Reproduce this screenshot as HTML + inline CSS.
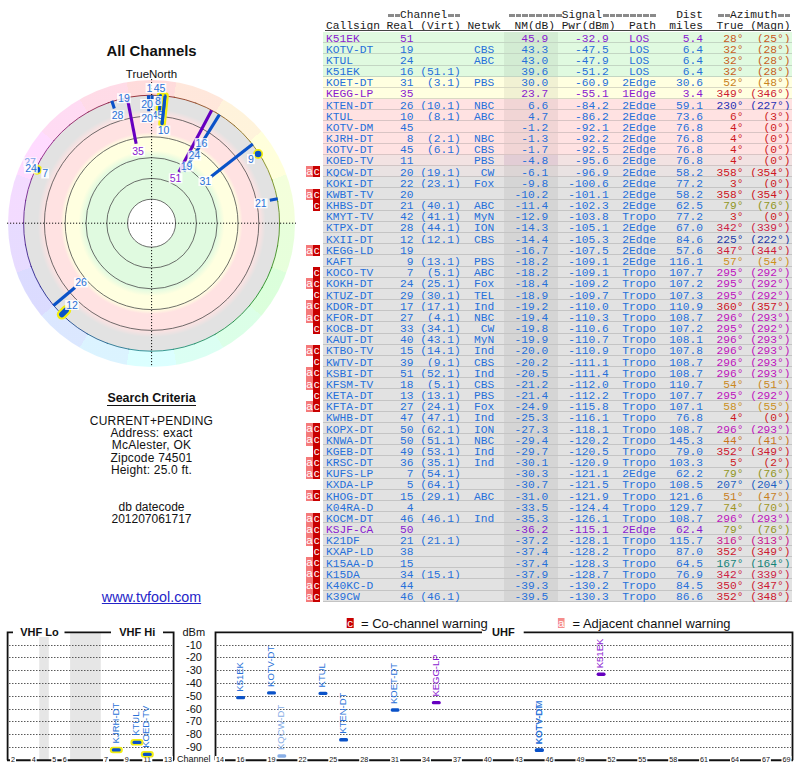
<!DOCTYPE html>
<html><head><meta charset="utf-8">
<style>
html,body{margin:0;padding:0;background:#fff;}
body{width:800px;height:768px;position:relative;overflow:hidden;}
.m{font-family:"Liberation Mono",monospace;font-size:11.23px;white-space:pre;position:absolute;line-height:12px;}
.s{font-family:"Liberation Sans",sans-serif;position:absolute;white-space:pre;}
.row{position:absolute;left:323px;width:469px;}
.ln{position:absolute;left:323px;width:469px;height:1px;}
.bd{position:absolute;width:7px;color:#fff;font-family:"Liberation Sans",sans-serif;font-size:11.5px;text-align:center;overflow:hidden;}
.ba{background:#f57a7a;left:306px;}
.eq{color:transparent;background-image:repeating-linear-gradient(to right,#fff 0,#fff 1px,transparent 1px,transparent 6.738px),linear-gradient(to bottom,transparent 4.6px,#8a8a8a 4.6px,#8a8a8a 8.4px,transparent 8.4px);}
.bc{background:#c80000;left:313px;}
</style></head><body>

<div class="m" style="left:326.00px;top:8.90px;color:#1a1a1a">         <span class="eq">==</span>Channel<span class="eq">==</span>       <span class="eq">========</span>Signal<span class="eq">========</span>   Dist  <span class="eq">==</span>Azimuth<span class="eq">==</span></div>
<div class="m" style="left:326.00px;top:19.60px;color:#1a1a1a">Callsign Real (Virt) Netwk  NM(dB) Pwr(dBm)  Path  miles  True (Magn)</div>
<div style="position:absolute;left:325px;top:30px;width:466px;height:1px;background:#444"></div>
<div class="row" style="top:32.00px;height:11.17px;background:rgb(224,250,224)"></div>
<div style="position:absolute;left:504px;width:54px;top:32.00px;height:11.17px;background:rgba(0,0,0,0.055)"></div>
<div class="ln" style="top:42.17px;background:rgb(195,214,195)"></div>
<div class="m" style="left:326.00px;top:32.60px;color:#8a1ad0">K51EK      51                45.9    -32.9   LOS     5.4 <span style="color:#c85a1e">  28°  (25°)</span></div>
<div class="row" style="top:43.17px;height:11.17px;background:rgb(224,250,224)"></div>
<div style="position:absolute;left:504px;width:54px;top:43.17px;height:11.17px;background:rgba(0,0,0,0.055)"></div>
<div class="ln" style="top:53.34px;background:rgb(195,214,195)"></div>
<div class="m" style="left:326.00px;top:43.77px;color:#2670da">KOTV-DT    19         CBS    43.3    -47.5   LOS     6.4 <span style="color:#c8611e">  32°  (28°)</span></div>
<div class="row" style="top:54.34px;height:11.17px;background:rgb(224,250,224)"></div>
<div style="position:absolute;left:504px;width:54px;top:54.34px;height:11.17px;background:rgba(0,0,0,0.055)"></div>
<div class="ln" style="top:64.51px;background:rgb(195,214,195)"></div>
<div class="m" style="left:326.00px;top:54.94px;color:#2670da">KTUL       24         ABC    43.0    -47.9   LOS     6.4 <span style="color:#c8611e">  32°  (28°)</span></div>
<div class="row" style="top:65.51px;height:11.17px;background:rgb(224,250,224)"></div>
<div style="position:absolute;left:504px;width:54px;top:65.51px;height:11.17px;background:rgba(0,0,0,0.055)"></div>
<div class="ln" style="top:75.68px;background:rgb(195,214,195)"></div>
<div class="m" style="left:326.00px;top:66.11px;color:#2670da">K51EK      16 (51.1)         39.6    -51.2   LOS     6.4 <span style="color:#c8611e">  32°  (28°)</span></div>
<div class="row" style="top:76.68px;height:11.17px;background:rgb(255,255,224)"></div>
<div style="position:absolute;left:504px;width:54px;top:76.68px;height:11.17px;background:rgba(0,0,0,0.055)"></div>
<div class="ln" style="top:86.85px;background:rgb(217,217,195)"></div>
<div class="m" style="left:326.00px;top:77.28px;color:#2670da">KOET-DT    31  (3.1)  PBS    30.0    -60.9  2Edge   30.6 <span style="color:#c8821e">  52°  (48°)</span></div>
<div class="row" style="top:87.85px;height:11.17px;background:rgb(255,255,224)"></div>
<div style="position:absolute;left:504px;width:54px;top:87.85px;height:11.17px;background:rgba(0,0,0,0.055)"></div>
<div class="ln" style="top:98.02px;background:rgb(217,217,195)"></div>
<div class="m" style="left:326.00px;top:88.45px;color:#8a1ad0">KEGG-LP    35                23.7    -55.1  1Edge    3.4 <span style="color:#cd1a34"> 349° (346°)</span></div>
<div class="row" style="top:99.02px;height:11.17px;background:rgb(255,226,226)"></div>
<div style="position:absolute;left:504px;width:54px;top:99.02px;height:11.17px;background:rgba(0,0,0,0.055)"></div>
<div class="ln" style="top:109.19px;background:rgb(217,196,196)"></div>
<div class="m" style="left:326.00px;top:99.62px;color:#2670da">KTEN-DT    26 (10.1)  NBC     6.6    -84.2  2Edge   59.1 <span style="color:#2832b4"> 230° (227°)</span></div>
<div class="row" style="top:110.19px;height:11.17px;background:rgb(255,226,226)"></div>
<div style="position:absolute;left:504px;width:54px;top:110.19px;height:11.17px;background:rgba(0,0,0,0.055)"></div>
<div class="ln" style="top:120.36px;background:rgb(217,196,196)"></div>
<div class="m" style="left:326.00px;top:110.79px;color:#2670da">KTUL       10  (8.1)  ABC     4.7    -86.2  2Edge   73.6 <span style="color:#cd1d1e">   6°   (3°)</span></div>
<div class="row" style="top:121.36px;height:11.17px;background:rgb(255,226,226)"></div>
<div style="position:absolute;left:504px;width:54px;top:121.36px;height:11.17px;background:rgba(0,0,0,0.055)"></div>
<div class="ln" style="top:131.53px;background:rgb(217,196,196)"></div>
<div class="m" style="left:326.00px;top:121.96px;color:#2670da">KOTV-DM    45                -1.2    -92.1  2Edge   76.8 <span style="color:#cd1a1e">   4°   (0°)</span></div>
<div class="row" style="top:132.53px;height:11.17px;background:rgb(255,226,226)"></div>
<div style="position:absolute;left:504px;width:54px;top:132.53px;height:11.17px;background:rgba(0,0,0,0.055)"></div>
<div class="ln" style="top:142.70px;background:rgb(217,196,196)"></div>
<div class="m" style="left:326.00px;top:133.13px;color:#2670da">KJRH-DT     8  (2.1)  NBC    -1.3    -92.2  2Edge   76.8 <span style="color:#cd1a1e">   4°   (0°)</span></div>
<div class="row" style="top:143.70px;height:11.17px;background:rgb(255,226,226)"></div>
<div style="position:absolute;left:504px;width:54px;top:143.70px;height:11.17px;background:rgba(0,0,0,0.055)"></div>
<div class="ln" style="top:153.87px;background:rgb(217,196,196)"></div>
<div class="m" style="left:326.00px;top:144.30px;color:#2670da">KOTV-DT    45  (6.1)  CBS    -1.7    -92.5  2Edge   76.8 <span style="color:#cd1a1e">   4°   (0°)</span></div>
<div class="row" style="top:154.87px;height:11.17px;background:rgb(242,226,226)"></div>
<div style="position:absolute;left:504px;width:54px;top:154.87px;height:11.17px;background:rgba(70,0,90,0.09)"></div>
<div class="ln" style="top:165.04px;background:rgb(208,196,196)"></div>
<div class="m" style="left:326.00px;top:155.47px;color:#2670da">KOED-TV    11         PBS    -4.8    -95.6  2Edge   76.8 <span style="color:#cd1a1e">   4°   (0°)</span></div>
<div class="row" style="top:166.04px;height:11.17px;background:rgb(233,226,226)"></div>
<div style="position:absolute;left:504px;width:54px;top:166.04px;height:11.17px;background:rgba(0,0,0,0.055)"></div>
<div class="ln" style="top:176.21px;background:rgb(201,196,196)"></div>
<div class="m" style="left:326.00px;top:166.64px;color:#2670da">KQCW-DT    20 (19.1)   CW    -6.1    -96.9  2Edge   58.2 <span style="color:#cd1522"> 358° (354°)</span></div>
<div class="bd ba" style="top:166.34px;height:11.17px;line-height:11.77px">a</div>
<div class="bd bc" style="top:166.34px;height:11.17px;line-height:11.77px">c</div>
<div class="row" style="top:177.21px;height:11.17px;background:rgb(226,226,226)"></div>
<div style="position:absolute;left:504px;width:54px;top:177.21px;height:11.17px;background:rgba(0,0,0,0.055)"></div>
<div class="ln" style="top:187.38px;background:rgb(196,196,196)"></div>
<div class="m" style="left:326.00px;top:177.81px;color:#2670da">KOKI-DT    22 (23.1)  Fox    -9.8   -100.6  2Edge   77.2 <span style="color:#cd181e">   3°   (0°)</span></div>
<div class="row" style="top:188.38px;height:11.17px;background:rgb(226,226,226)"></div>
<div style="position:absolute;left:504px;width:54px;top:188.38px;height:11.17px;background:rgba(0,0,0,0.055)"></div>
<div class="ln" style="top:198.55px;background:rgb(196,196,196)"></div>
<div class="m" style="left:326.00px;top:188.98px;color:#2670da">KWBT-TV    20               -10.2   -101.1  2Edge   58.2 <span style="color:#cd1522"> 358° (354°)</span></div>
<div class="bd ba" style="top:188.68px;height:11.17px;line-height:11.77px">a</div>
<div class="bd bc" style="top:188.68px;height:11.17px;line-height:11.77px">c</div>
<div class="row" style="top:199.55px;height:11.17px;background:rgb(226,226,226)"></div>
<div style="position:absolute;left:504px;width:54px;top:199.55px;height:11.17px;background:rgba(0,0,0,0.055)"></div>
<div class="ln" style="top:209.72px;background:rgb(196,196,196)"></div>
<div class="m" style="left:326.00px;top:200.15px;color:#2670da">KHBS-DT    21 (40.1)  ABC   -11.4   -102.3  2Edge   62.5 <span style="color:#91961e">  79°  (76°)</span></div>
<div class="bd bc" style="top:199.85px;height:11.17px;line-height:11.77px">c</div>
<div class="row" style="top:210.72px;height:11.17px;background:rgb(226,226,226)"></div>
<div style="position:absolute;left:504px;width:54px;top:210.72px;height:11.17px;background:rgba(0,0,0,0.055)"></div>
<div class="ln" style="top:220.89px;background:rgb(196,196,196)"></div>
<div class="m" style="left:326.00px;top:211.32px;color:#2670da">KMYT-TV    42 (41.1)  MyN   -12.9   -103.8  Tropo   77.2 <span style="color:#cd181e">   3°   (0°)</span></div>
<div class="row" style="top:221.89px;height:11.17px;background:rgb(226,226,226)"></div>
<div style="position:absolute;left:504px;width:54px;top:221.89px;height:11.17px;background:rgba(0,0,0,0.055)"></div>
<div class="ln" style="top:232.06px;background:rgb(196,196,196)"></div>
<div class="m" style="left:326.00px;top:222.49px;color:#2670da">KTPX-DT    28 (44.1)  ION   -14.3   -105.1  2Edge   67.0 <span style="color:#cd1e46"> 342° (339°)</span></div>
<div class="row" style="top:233.06px;height:11.17px;background:rgb(226,226,226)"></div>
<div style="position:absolute;left:504px;width:54px;top:233.06px;height:11.17px;background:rgba(0,0,0,0.055)"></div>
<div class="ln" style="top:243.23px;background:rgb(196,196,196)"></div>
<div class="m" style="left:326.00px;top:233.66px;color:#2670da">KXII-DT    12 (12.1)  CBS   -14.4   -105.3  2Edge   84.6 <span style="color:#1e3caa"> 225° (222°)</span></div>
<div class="row" style="top:244.23px;height:11.17px;background:rgb(226,226,226)"></div>
<div style="position:absolute;left:504px;width:54px;top:244.23px;height:11.17px;background:rgba(0,0,0,0.055)"></div>
<div class="ln" style="top:254.40px;background:rgb(196,196,196)"></div>
<div class="m" style="left:326.00px;top:244.83px;color:#2670da">KEGG-LD    19               -16.7   -107.5  2Edge   57.6 <span style="color:#cd1b3a"> 347° (344°)</span></div>
<div class="bd ba" style="top:244.53px;height:11.17px;line-height:11.77px">a</div>
<div class="bd bc" style="top:244.53px;height:11.17px;line-height:11.77px">c</div>
<div class="row" style="top:255.40px;height:11.17px;background:rgb(226,226,226)"></div>
<div style="position:absolute;left:504px;width:54px;top:255.40px;height:11.17px;background:rgba(0,0,0,0.055)"></div>
<div class="ln" style="top:265.57px;background:rgb(196,196,196)"></div>
<div class="m" style="left:326.00px;top:256.00px;color:#2670da">KAFT        9 (13.1)  PBS   -18.2   -109.1  2Edge  116.1 <span style="color:#cd911e">  57°  (54°)</span></div>
<div class="row" style="top:266.57px;height:11.17px;background:rgb(226,226,226)"></div>
<div style="position:absolute;left:504px;width:54px;top:266.57px;height:11.17px;background:rgba(0,0,0,0.055)"></div>
<div class="ln" style="top:276.74px;background:rgb(196,196,196)"></div>
<div class="m" style="left:326.00px;top:267.17px;color:#2670da">KOCO-TV     7  (5.1)  ABC   -18.2   -109.1  Tropo  107.7 <span style="color:#be14be"> 295° (292°)</span></div>
<div class="bd bc" style="top:266.87px;height:11.17px;line-height:11.77px">c</div>
<div class="row" style="top:277.74px;height:11.17px;background:rgb(226,226,226)"></div>
<div style="position:absolute;left:504px;width:54px;top:277.74px;height:11.17px;background:rgba(0,0,0,0.055)"></div>
<div class="ln" style="top:287.91px;background:rgb(196,196,196)"></div>
<div class="m" style="left:326.00px;top:278.34px;color:#2670da">KOKH-DT    24 (25.1)  Fox   -18.4   -109.2  Tropo  107.2 <span style="color:#be14be"> 295° (292°)</span></div>
<div class="bd ba" style="top:278.04px;height:11.17px;line-height:11.77px">a</div>
<div class="bd bc" style="top:278.04px;height:11.17px;line-height:11.77px">c</div>
<div class="row" style="top:288.91px;height:11.17px;background:rgb(226,226,226)"></div>
<div style="position:absolute;left:504px;width:54px;top:288.91px;height:11.17px;background:rgba(0,0,0,0.055)"></div>
<div class="ln" style="top:299.08px;background:rgb(196,196,196)"></div>
<div class="m" style="left:326.00px;top:289.51px;color:#2670da">KTUZ-DT    29 (30.1)  TEL   -18.9   -109.7  Tropo  107.3 <span style="color:#be14be"> 295° (292°)</span></div>
<div class="bd bc" style="top:289.21px;height:11.17px;line-height:11.77px">c</div>
<div class="row" style="top:300.08px;height:11.17px;background:rgb(226,226,226)"></div>
<div style="position:absolute;left:504px;width:54px;top:300.08px;height:11.17px;background:rgba(0,0,0,0.055)"></div>
<div class="ln" style="top:310.25px;background:rgb(196,196,196)"></div>
<div class="m" style="left:326.00px;top:300.68px;color:#2670da">KDOR-DT    17 (17.1)  Ind   -19.2   -110.0  Tropo  110.9 <span style="color:#cd141e"> 360° (357°)</span></div>
<div class="bd ba" style="top:300.38px;height:11.17px;line-height:11.77px">a</div>
<div class="bd bc" style="top:300.38px;height:11.17px;line-height:11.77px">c</div>
<div class="row" style="top:311.25px;height:11.17px;background:rgb(226,226,226)"></div>
<div style="position:absolute;left:504px;width:54px;top:311.25px;height:11.17px;background:rgba(0,0,0,0.055)"></div>
<div class="ln" style="top:321.42px;background:rgb(196,196,196)"></div>
<div class="m" style="left:326.00px;top:311.85px;color:#2670da">KFOR-DT    27  (4.1)  NBC   -19.4   -110.3  Tropo  108.7 <span style="color:#be14bc"> 296° (293°)</span></div>
<div class="bd ba" style="top:311.55px;height:11.17px;line-height:11.77px">a</div>
<div class="bd bc" style="top:311.55px;height:11.17px;line-height:11.77px">c</div>
<div class="row" style="top:322.42px;height:11.17px;background:rgb(226,226,226)"></div>
<div style="position:absolute;left:504px;width:54px;top:322.42px;height:11.17px;background:rgba(0,0,0,0.055)"></div>
<div class="ln" style="top:332.59px;background:rgb(196,196,196)"></div>
<div class="m" style="left:326.00px;top:323.02px;color:#2670da">KOCB-DT    33 (34.1)   CW   -19.8   -110.6  Tropo  107.2 <span style="color:#be14be"> 295° (292°)</span></div>
<div class="bd bc" style="top:322.72px;height:11.17px;line-height:11.77px">c</div>
<div class="row" style="top:333.59px;height:11.17px;background:rgb(226,226,226)"></div>
<div style="position:absolute;left:504px;width:54px;top:333.59px;height:11.17px;background:rgba(0,0,0,0.055)"></div>
<div class="ln" style="top:343.76px;background:rgb(196,196,196)"></div>
<div class="m" style="left:326.00px;top:334.19px;color:#2670da">KAUT-DT    40 (43.1)  MyN   -19.9   -110.7  Tropo  108.1 <span style="color:#be14bc"> 296° (293°)</span></div>
<div class="row" style="top:344.76px;height:11.17px;background:rgb(226,226,226)"></div>
<div style="position:absolute;left:504px;width:54px;top:344.76px;height:11.17px;background:rgba(0,0,0,0.055)"></div>
<div class="ln" style="top:354.93px;background:rgb(196,196,196)"></div>
<div class="m" style="left:326.00px;top:345.36px;color:#2670da">KTBO-TV    15 (14.1)  Ind   -20.0   -110.9  Tropo  107.8 <span style="color:#be14bc"> 296° (293°)</span></div>
<div class="bd ba" style="top:345.06px;height:11.17px;line-height:11.77px">a</div>
<div class="bd bc" style="top:345.06px;height:11.17px;line-height:11.77px">c</div>
<div class="row" style="top:355.93px;height:11.17px;background:rgb(226,226,226)"></div>
<div style="position:absolute;left:504px;width:54px;top:355.93px;height:11.17px;background:rgba(0,0,0,0.055)"></div>
<div class="ln" style="top:366.10px;background:rgb(196,196,196)"></div>
<div class="m" style="left:326.00px;top:356.53px;color:#2670da">KWTV-DT    39  (9.1)  CBS   -20.2   -111.1  Tropo  108.7 <span style="color:#be14bc"> 296° (293°)</span></div>
<div class="bd bc" style="top:356.23px;height:11.17px;line-height:11.77px">c</div>
<div class="row" style="top:367.10px;height:11.17px;background:rgb(226,226,226)"></div>
<div style="position:absolute;left:504px;width:54px;top:367.10px;height:11.17px;background:rgba(0,0,0,0.055)"></div>
<div class="ln" style="top:377.27px;background:rgb(196,196,196)"></div>
<div class="m" style="left:326.00px;top:367.70px;color:#2670da">KSBI-DT    51 (52.1)  Ind   -20.5   -111.4  Tropo  108.7 <span style="color:#be14bc"> 296° (293°)</span></div>
<div class="bd ba" style="top:367.40px;height:11.17px;line-height:11.77px">a</div>
<div class="bd bc" style="top:367.40px;height:11.17px;line-height:11.77px">c</div>
<div class="row" style="top:378.27px;height:11.17px;background:rgb(226,226,226)"></div>
<div style="position:absolute;left:504px;width:54px;top:378.27px;height:11.17px;background:rgba(0,0,0,0.055)"></div>
<div class="ln" style="top:388.44px;background:rgb(196,196,196)"></div>
<div class="m" style="left:326.00px;top:378.87px;color:#2670da">KFSM-TV    18  (5.1)  CBS   -21.2   -112.0  Tropo  110.7 <span style="color:#ca881e">  54°  (51°)</span></div>
<div class="bd ba" style="top:378.57px;height:11.17px;line-height:11.77px">a</div>
<div class="bd bc" style="top:378.57px;height:11.17px;line-height:11.77px">c</div>
<div class="row" style="top:389.44px;height:11.17px;background:rgb(226,226,226)"></div>
<div style="position:absolute;left:504px;width:54px;top:389.44px;height:11.17px;background:rgba(0,0,0,0.055)"></div>
<div class="ln" style="top:399.61px;background:rgb(196,196,196)"></div>
<div class="m" style="left:326.00px;top:390.04px;color:#2670da">KETA-DT    13 (13.1)  PBS   -21.4   -112.2  Tropo  107.7 <span style="color:#be14be"> 295° (292°)</span></div>
<div class="bd bc" style="top:389.74px;height:11.17px;line-height:11.77px">c</div>
<div class="row" style="top:400.61px;height:11.17px;background:rgb(226,226,226)"></div>
<div style="position:absolute;left:504px;width:54px;top:400.61px;height:11.17px;background:rgba(0,0,0,0.055)"></div>
<div class="ln" style="top:410.78px;background:rgb(196,196,196)"></div>
<div class="m" style="left:326.00px;top:401.21px;color:#2670da">KFTA-DT    27 (24.1)  Fox   -24.9   -115.8  Tropo  107.1 <span style="color:#ca911e">  58°  (55°)</span></div>
<div class="bd ba" style="top:400.91px;height:11.17px;line-height:11.77px">a</div>
<div class="bd bc" style="top:400.91px;height:11.17px;line-height:11.77px">c</div>
<div class="row" style="top:411.78px;height:11.17px;background:rgb(226,226,226)"></div>
<div style="position:absolute;left:504px;width:54px;top:411.78px;height:11.17px;background:rgba(0,0,0,0.055)"></div>
<div class="ln" style="top:421.95px;background:rgb(196,196,196)"></div>
<div class="m" style="left:326.00px;top:412.38px;color:#2670da">KWHB-DT    47 (47.1)  Ind   -25.3   -116.1  Tropo   76.8 <span style="color:#cd1a1e">   4°   (0°)</span></div>
<div class="row" style="top:422.95px;height:11.17px;background:rgb(226,226,226)"></div>
<div style="position:absolute;left:504px;width:54px;top:422.95px;height:11.17px;background:rgba(0,0,0,0.055)"></div>
<div class="ln" style="top:433.12px;background:rgb(196,196,196)"></div>
<div class="m" style="left:326.00px;top:423.55px;color:#2670da">KOPX-DT    50 (62.1)  ION   -27.3   -118.1  Tropo  108.7 <span style="color:#be14bc"> 296° (293°)</span></div>
<div class="bd ba" style="top:423.25px;height:11.17px;line-height:11.77px">a</div>
<div class="bd bc" style="top:423.25px;height:11.17px;line-height:11.77px">c</div>
<div class="row" style="top:434.12px;height:11.17px;background:rgb(226,226,226)"></div>
<div style="position:absolute;left:504px;width:54px;top:434.12px;height:11.17px;background:rgba(0,0,0,0.055)"></div>
<div class="ln" style="top:444.29px;background:rgb(196,196,196)"></div>
<div class="m" style="left:326.00px;top:434.72px;color:#2670da">KNWA-DT    50 (51.1)  NBC   -29.4   -120.2  Tropo  145.3 <span style="color:#c8751e">  44°  (41°)</span></div>
<div class="bd ba" style="top:434.42px;height:11.17px;line-height:11.77px">a</div>
<div class="bd bc" style="top:434.42px;height:11.17px;line-height:11.77px">c</div>
<div class="row" style="top:445.29px;height:11.17px;background:rgb(226,226,226)"></div>
<div style="position:absolute;left:504px;width:54px;top:445.29px;height:11.17px;background:rgba(0,0,0,0.055)"></div>
<div class="ln" style="top:455.46px;background:rgb(196,196,196)"></div>
<div class="m" style="left:326.00px;top:445.89px;color:#2670da">KGEB-DT    49 (53.1)  Ind   -29.7   -120.5  Tropo   79.0 <span style="color:#cd182e"> 352° (349°)</span></div>
<div class="bd bc" style="top:445.59px;height:11.17px;line-height:11.77px">c</div>
<div class="row" style="top:456.46px;height:11.17px;background:rgb(226,226,226)"></div>
<div style="position:absolute;left:504px;width:54px;top:456.46px;height:11.17px;background:rgba(0,0,0,0.055)"></div>
<div class="ln" style="top:466.63px;background:rgb(196,196,196)"></div>
<div class="m" style="left:326.00px;top:457.06px;color:#2670da">KRSC-DT    36 (35.1)  Ind   -30.1   -120.9  Tropo  103.3 <span style="color:#cd1c1e">   5°   (2°)</span></div>
<div class="bd ba" style="top:456.76px;height:11.17px;line-height:11.77px">a</div>
<div class="bd bc" style="top:456.76px;height:11.17px;line-height:11.77px">c</div>
<div class="row" style="top:467.63px;height:11.17px;background:rgb(226,226,226)"></div>
<div style="position:absolute;left:504px;width:54px;top:467.63px;height:11.17px;background:rgba(0,0,0,0.055)"></div>
<div class="ln" style="top:477.80px;background:rgb(196,196,196)"></div>
<div class="m" style="left:326.00px;top:468.23px;color:#2670da">KUFS-LP     7 (54.1)        -30.3   -121.1  2Edge   62.2 <span style="color:#91961e">  79°  (76°)</span></div>
<div class="bd ba" style="top:467.93px;height:11.17px;line-height:11.77px">a</div>
<div class="bd bc" style="top:467.93px;height:11.17px;line-height:11.77px">c</div>
<div class="row" style="top:478.80px;height:11.17px;background:rgb(226,226,226)"></div>
<div style="position:absolute;left:504px;width:54px;top:478.80px;height:11.17px;background:rgba(0,0,0,0.055)"></div>
<div class="ln" style="top:488.97px;background:rgb(196,196,196)"></div>
<div class="m" style="left:326.00px;top:479.40px;color:#2670da">KXDA-LP     5 (64.1)        -30.7   -121.5  Tropo  108.5 <span style="color:#1e5fc3"> 207° (204°)</span></div>
<div class="row" style="top:489.97px;height:11.17px;background:rgb(226,226,226)"></div>
<div style="position:absolute;left:504px;width:54px;top:489.97px;height:11.17px;background:rgba(0,0,0,0.055)"></div>
<div class="ln" style="top:500.14px;background:rgb(196,196,196)"></div>
<div class="m" style="left:326.00px;top:490.57px;color:#2670da">KHOG-DT    15 (29.1)  ABC   -31.0   -121.9  Tropo  121.6 <span style="color:#c8801e">  51°  (47°)</span></div>
<div class="bd ba" style="top:490.27px;height:11.17px;line-height:11.77px">a</div>
<div class="bd bc" style="top:490.27px;height:11.17px;line-height:11.77px">c</div>
<div class="row" style="top:501.14px;height:11.17px;background:rgb(226,226,226)"></div>
<div style="position:absolute;left:504px;width:54px;top:501.14px;height:11.17px;background:rgba(0,0,0,0.055)"></div>
<div class="ln" style="top:511.31px;background:rgb(196,196,196)"></div>
<div class="m" style="left:326.00px;top:501.74px;color:#2670da">K04RA-D     4               -33.5   -124.4  Tropo  129.7 <span style="color:#9f951e">  74°  (70°)</span></div>
<div class="row" style="top:512.31px;height:11.17px;background:rgb(226,226,226)"></div>
<div style="position:absolute;left:504px;width:54px;top:512.31px;height:11.17px;background:rgba(0,0,0,0.055)"></div>
<div class="ln" style="top:522.48px;background:rgb(196,196,196)"></div>
<div class="m" style="left:326.00px;top:512.91px;color:#2670da">KOCM-DT    46 (46.1)  Ind   -35.3   -126.1  Tropo  108.7 <span style="color:#be14bc"> 296° (293°)</span></div>
<div class="bd ba" style="top:512.61px;height:11.17px;line-height:11.77px">a</div>
<div class="bd bc" style="top:512.61px;height:11.17px;line-height:11.77px">c</div>
<div class="row" style="top:523.48px;height:11.17px;background:rgb(226,226,226)"></div>
<div style="position:absolute;left:504px;width:54px;top:523.48px;height:11.17px;background:rgba(0,0,0,0.055)"></div>
<div class="ln" style="top:533.65px;background:rgb(196,196,196)"></div>
<div class="m" style="left:326.00px;top:524.08px;color:#8a1ad0">KSJF-CA    50               -36.2   -115.1  2Edge   62.4 <span style="color:#91961e">  79°  (76°)</span></div>
<div class="bd ba" style="top:523.78px;height:11.17px;line-height:11.77px">a</div>
<div class="bd bc" style="top:523.78px;height:11.17px;line-height:11.77px">c</div>
<div class="row" style="top:534.65px;height:11.17px;background:rgb(226,226,226)"></div>
<div style="position:absolute;left:504px;width:54px;top:534.65px;height:11.17px;background:rgba(0,0,0,0.055)"></div>
<div class="ln" style="top:544.82px;background:rgb(196,196,196)"></div>
<div class="m" style="left:326.00px;top:535.25px;color:#2670da">K21DF      21 (21.1)        -37.2   -128.1  Tropo  115.7 <span style="color:#c8148c"> 316° (313°)</span></div>
<div class="bd ba" style="top:534.95px;height:11.17px;line-height:11.77px">a</div>
<div class="bd bc" style="top:534.95px;height:11.17px;line-height:11.77px">c</div>
<div class="row" style="top:545.82px;height:11.17px;background:rgb(226,226,226)"></div>
<div style="position:absolute;left:504px;width:54px;top:545.82px;height:11.17px;background:rgba(0,0,0,0.055)"></div>
<div class="ln" style="top:555.99px;background:rgb(196,196,196)"></div>
<div class="m" style="left:326.00px;top:546.42px;color:#2670da">KXAP-LD    38               -37.4   -128.2  Tropo   87.0 <span style="color:#cd182e"> 352° (349°)</span></div>
<div class="bd bc" style="top:546.12px;height:11.17px;line-height:11.77px">c</div>
<div class="row" style="top:556.99px;height:11.17px;background:rgb(226,226,226)"></div>
<div style="position:absolute;left:504px;width:54px;top:556.99px;height:11.17px;background:rgba(0,0,0,0.055)"></div>
<div class="ln" style="top:567.16px;background:rgb(196,196,196)"></div>
<div class="m" style="left:326.00px;top:557.59px;color:#2670da">K15AA-D    15               -37.4   -128.3  Tropo   64.5 <span style="color:#148278"> 167° (164°)</span></div>
<div class="bd ba" style="top:557.29px;height:11.17px;line-height:11.77px">a</div>
<div class="bd bc" style="top:557.29px;height:11.17px;line-height:11.77px">c</div>
<div class="row" style="top:568.16px;height:11.17px;background:rgb(226,226,226)"></div>
<div style="position:absolute;left:504px;width:54px;top:568.16px;height:11.17px;background:rgba(0,0,0,0.055)"></div>
<div class="ln" style="top:578.33px;background:rgb(196,196,196)"></div>
<div class="m" style="left:326.00px;top:568.76px;color:#2670da">K15DA      34 (15.1)        -37.9   -128.7  Tropo   76.9 <span style="color:#cd1e46"> 342° (339°)</span></div>
<div class="bd ba" style="top:568.46px;height:11.17px;line-height:11.77px">a</div>
<div class="bd bc" style="top:568.46px;height:11.17px;line-height:11.77px">c</div>
<div class="row" style="top:579.33px;height:11.17px;background:rgb(226,226,226)"></div>
<div style="position:absolute;left:504px;width:54px;top:579.33px;height:11.17px;background:rgba(0,0,0,0.055)"></div>
<div class="ln" style="top:589.50px;background:rgb(196,196,196)"></div>
<div class="m" style="left:326.00px;top:579.93px;color:#2670da">K40KC-D    44               -39.3   -130.2  Tropo   84.5 <span style="color:#cd1932"> 350° (347°)</span></div>
<div class="bd ba" style="top:579.63px;height:11.17px;line-height:11.77px">a</div>
<div class="bd bc" style="top:579.63px;height:11.17px;line-height:11.77px">c</div>
<div class="row" style="top:590.50px;height:11.17px;background:rgb(226,226,226)"></div>
<div style="position:absolute;left:504px;width:54px;top:590.50px;height:11.17px;background:rgba(0,0,0,0.055)"></div>
<div class="ln" style="top:600.67px;background:rgb(196,196,196)"></div>
<div class="m" style="left:326.00px;top:591.10px;color:#2670da">K39CW      46 (46.1)        -39.5   -130.3  Tropo   86.6 <span style="color:#cd182e"> 352° (348°)</span></div>
<div class="bd ba" style="top:590.80px;height:11.17px;line-height:11.77px">a</div>
<div class="bd bc" style="top:590.80px;height:11.17px;line-height:11.77px">c</div><div style="position:absolute;left:8.00px;top:79.60px;width:287.20px;height:287.20px;border-radius:50%;background:conic-gradient(hsl(0,100%,93%) 0deg 10deg,hsl(20,100%,93%) 10deg 30deg,hsl(40,100%,93%) 30deg 50deg,hsl(60,100%,93%) 50deg 70deg,hsl(80,100%,93%) 70deg 90deg,hsl(100,100%,93%) 90deg 110deg,hsl(120,100%,93%) 110deg 130deg,hsl(140,100%,93%) 130deg 150deg,hsl(160,100%,93%) 150deg 170deg,hsl(180,100%,93%) 170deg 190deg,hsl(200,100%,93%) 190deg 210deg,hsl(220,100%,93%) 210deg 230deg,hsl(240,100%,93%) 230deg 250deg,hsl(260,100%,93%) 250deg 270deg,hsl(280,100%,93%) 270deg 290deg,hsl(300,100%,93%) 290deg 310deg,hsl(320,100%,93%) 310deg 330deg,hsl(340,100%,93%) 330deg 350deg,hsl(0,100%,93%) 350deg 360deg)"></div>
<svg style="position:absolute;left:0;top:0" width="300" height="380" viewBox="0 0 300 380">
<defs><radialGradient id="bands" cx="151.60" cy="223.20" r="128" gradientUnits="userSpaceOnUse">
<stop offset="0" stop-color="#e0fae0"/>
<stop offset="0.5156" stop-color="#e0fae0"/>
<stop offset="0.5703" stop-color="#ffffe0"/>
<stop offset="0.6758" stop-color="#ffffe0"/>
<stop offset="0.7109" stop-color="#ffe2e2"/>
<stop offset="0.8359" stop-color="#ffe2e2"/>
<stop offset="0.8906" stop-color="#e2e2e2"/>
<stop offset="1" stop-color="#e2e2e2"/>
</radialGradient></defs>
<circle cx="151.60" cy="223.20" r="128" fill="url(#bands)"/>
<circle cx="151.60" cy="223.20" r="24" fill="#fff"/>
<path d="M151.60,95.20 A128,128 0 0 1 174.93,97.34" fill="none" stroke="hsl(5,60%,35%)" stroke-width="0.9"/>
<path d="M173.83,97.14 A128,128 0 0 1 196.43,103.31" fill="none" stroke="hsl(15,60%,35%)" stroke-width="0.9"/>
<path d="M195.38,102.92 A128,128 0 0 1 216.56,112.91" fill="none" stroke="hsl(25,60%,35%)" stroke-width="0.9"/>
<path d="M215.60,112.35 A128,128 0 0 1 234.73,125.87" fill="none" stroke="hsl(35,60%,35%)" stroke-width="0.9"/>
<path d="M233.88,125.15 A128,128 0 0 1 250.37,141.78" fill="none" stroke="hsl(45,60%,35%)" stroke-width="0.9"/>
<path d="M249.65,140.92 A128,128 0 0 1 263.01,160.17" fill="none" stroke="hsl(55,60%,35%)" stroke-width="0.9"/>
<path d="M262.45,159.20 A128,128 0 0 1 272.26,180.47" fill="none" stroke="hsl(65,60%,35%)" stroke-width="0.9"/>
<path d="M271.88,179.42 A128,128 0 0 1 277.84,202.07" fill="none" stroke="hsl(75,60%,35%)" stroke-width="0.9"/>
<path d="M277.66,200.97 A128,128 0 0 1 279.60,224.32" fill="none" stroke="hsl(85,60%,35%)" stroke-width="0.9"/>
<path d="M279.60,223.20 A128,128 0 0 1 277.46,246.53" fill="none" stroke="hsl(95,60%,35%)" stroke-width="0.9"/>
<path d="M277.66,245.43 A128,128 0 0 1 271.49,268.03" fill="none" stroke="hsl(105,60%,35%)" stroke-width="0.9"/>
<path d="M271.88,266.98 A128,128 0 0 1 261.89,288.16" fill="none" stroke="hsl(115,60%,35%)" stroke-width="0.9"/>
<path d="M262.45,287.20 A128,128 0 0 1 248.93,306.33" fill="none" stroke="hsl(125,60%,35%)" stroke-width="0.9"/>
<path d="M249.65,305.48 A128,128 0 0 1 233.02,321.97" fill="none" stroke="hsl(135,60%,35%)" stroke-width="0.9"/>
<path d="M233.88,321.25 A128,128 0 0 1 214.63,334.61" fill="none" stroke="hsl(145,60%,35%)" stroke-width="0.9"/>
<path d="M215.60,334.05 A128,128 0 0 1 194.33,343.86" fill="none" stroke="hsl(155,60%,35%)" stroke-width="0.9"/>
<path d="M195.38,343.48 A128,128 0 0 1 172.73,349.44" fill="none" stroke="hsl(165,60%,35%)" stroke-width="0.9"/>
<path d="M173.83,349.26 A128,128 0 0 1 150.48,351.20" fill="none" stroke="hsl(175,60%,35%)" stroke-width="0.9"/>
<path d="M151.60,351.20 A128,128 0 0 1 128.27,349.06" fill="none" stroke="hsl(185,60%,35%)" stroke-width="0.9"/>
<path d="M129.37,349.26 A128,128 0 0 1 106.77,343.09" fill="none" stroke="hsl(195,60%,35%)" stroke-width="0.9"/>
<path d="M107.82,343.48 A128,128 0 0 1 86.64,333.49" fill="none" stroke="hsl(205,60%,35%)" stroke-width="0.9"/>
<path d="M87.60,334.05 A128,128 0 0 1 68.47,320.53" fill="none" stroke="hsl(215,60%,35%)" stroke-width="0.9"/>
<path d="M69.32,321.25 A128,128 0 0 1 52.83,304.62" fill="none" stroke="hsl(225,60%,35%)" stroke-width="0.9"/>
<path d="M53.55,305.48 A128,128 0 0 1 40.19,286.23" fill="none" stroke="hsl(235,60%,35%)" stroke-width="0.9"/>
<path d="M40.75,287.20 A128,128 0 0 1 30.94,265.93" fill="none" stroke="hsl(245,60%,35%)" stroke-width="0.9"/>
<path d="M31.32,266.98 A128,128 0 0 1 25.36,244.33" fill="none" stroke="hsl(255,60%,35%)" stroke-width="0.9"/>
<path d="M25.54,245.43 A128,128 0 0 1 23.60,222.08" fill="none" stroke="hsl(265,60%,35%)" stroke-width="0.9"/>
<path d="M23.60,223.20 A128,128 0 0 1 25.74,199.87" fill="none" stroke="hsl(275,60%,35%)" stroke-width="0.9"/>
<path d="M25.54,200.97 A128,128 0 0 1 31.71,178.37" fill="none" stroke="hsl(285,60%,35%)" stroke-width="0.9"/>
<path d="M31.32,179.42 A128,128 0 0 1 41.31,158.24" fill="none" stroke="hsl(295,60%,35%)" stroke-width="0.9"/>
<path d="M40.75,159.20 A128,128 0 0 1 54.27,140.07" fill="none" stroke="hsl(305,60%,35%)" stroke-width="0.9"/>
<path d="M53.55,140.92 A128,128 0 0 1 70.18,124.43" fill="none" stroke="hsl(315,60%,35%)" stroke-width="0.9"/>
<path d="M69.32,125.15 A128,128 0 0 1 88.57,111.79" fill="none" stroke="hsl(325,60%,35%)" stroke-width="0.9"/>
<path d="M87.60,112.35 A128,128 0 0 1 108.87,102.54" fill="none" stroke="hsl(335,60%,35%)" stroke-width="0.9"/>
<path d="M107.82,102.92 A128,128 0 0 1 130.47,96.96" fill="none" stroke="hsl(345,60%,35%)" stroke-width="0.9"/>
<path d="M129.37,97.14 A128,128 0 0 1 152.72,95.20" fill="none" stroke="hsl(355,60%,35%)" stroke-width="0.9"/>
<circle cx="151.60" cy="223.20" r="24.00" fill="none" stroke="#4a4a4a" stroke-width="0.8"/>
<circle cx="151.60" cy="223.20" r="44.80" fill="none" stroke="#4a4a4a" stroke-width="0.8"/>
<circle cx="151.60" cy="223.20" r="65.60" fill="none" stroke="#4a4a4a" stroke-width="0.8"/>
<circle cx="151.60" cy="223.20" r="86.40" fill="none" stroke="#4a4a4a" stroke-width="0.8"/>
<circle cx="151.60" cy="223.20" r="107.20" fill="none" stroke="#4a4a4a" stroke-width="0.8"/>
<line x1="7" y1="223.20" x2="296" y2="223.20" stroke="#111" stroke-width="1" stroke-dasharray="1.2 1.8"/>
<line x1="151.60" y1="79" x2="151.60" y2="366.5" stroke="#111" stroke-width="1" stroke-dasharray="1.2 1.8"/>
<line x1="178.83" y1="171.99" x2="211.69" y2="110.18" stroke="#6600c0" stroke-width="3.10" stroke-linecap="butt"/>
<line x1="183.93" y1="171.47" x2="219.43" y2="114.65" stroke="#0a52c8" stroke-width="3.10" stroke-linecap="butt"/>
<line x1="211.25" y1="176.59" x2="252.86" y2="144.09" stroke="#0a52c8" stroke-width="3.10" stroke-linecap="butt"/>
<line x1="136.14" y1="143.69" x2="127.18" y2="97.55" stroke="#6600c0" stroke-width="3.10" stroke-linecap="butt"/>
<line x1="75.00" y1="287.48" x2="53.55" y2="305.48" stroke="#0a52c8" stroke-width="3.10" stroke-linecap="butt"/>
<line x1="162.05" y1="123.75" x2="164.98" y2="95.90" stroke="#f2ee10" stroke-width="7.70" stroke-linecap="round"/><line x1="162.05" y1="123.75" x2="164.98" y2="95.90" stroke="#0a52c8" stroke-width="3.10" stroke-linecap="round"/>
<line x1="159.34" y1="112.47" x2="160.53" y2="95.51" stroke="#f2ee10" stroke-width="7.70" stroke-linecap="round"/><line x1="159.34" y1="112.47" x2="160.53" y2="95.51" stroke="#0a52c8" stroke-width="3.10" stroke-linecap="round"/>
<line x1="148.86" y1="111.23" x2="148.47" y2="95.24" stroke="#0a52c8" stroke-width="3.10" stroke-linecap="butt"/>
<line x1="152.03" y1="99.20" x2="152.05" y2="95.20" stroke="#0a52c8" stroke-width="3.10" stroke-linecap="butt"/>
<line x1="157.81" y1="104.66" x2="158.30" y2="95.38" stroke="#0a52c8" stroke-width="3.10" stroke-linecap="butt"/>
<line x1="269.79" y1="200.23" x2="277.74" y2="198.68" stroke="#0a52c8" stroke-width="3.10" stroke-linecap="butt"/>
<line x1="114.30" y1="108.41" x2="111.80" y2="100.70" stroke="#0a52c8" stroke-width="3.10" stroke-linecap="butt"/>
<line x1="66.09" y1="310.22" x2="61.88" y2="314.50" stroke="#f2ee10" stroke-width="10.20" stroke-linecap="round"/><line x1="66.09" y1="310.22" x2="61.88" y2="314.50" stroke="#0a52c8" stroke-width="5.60" stroke-linecap="round"/>
<line x1="123.37" y1="100.92" x2="122.69" y2="97.99" stroke="#0a52c8" stroke-width="3.10" stroke-linecap="butt"/>
<circle cx="258.11" cy="154.03" r="5" fill="#f2ee10"/><circle cx="258.11" cy="154.03" r="3.3" fill="#0a52c8"/>
<circle cx="37.04" cy="169.78" r="5" fill="#f2ee10"/><circle cx="37.04" cy="169.78" r="3.3" fill="#0a52c8"/>
<rect x="168.75" y="173.30" width="13.70" height="10" fill="#fff" fill-opacity="0.85"/><text x="175.60" y="182.10" text-anchor="middle" font-family="Liberation Sans, sans-serif" font-size="10.5" fill="#8a1ad0" opacity="1.00">51</text>
<rect x="179.75" y="161.60" width="13.70" height="10" fill="#fff" fill-opacity="0.85"/><text x="186.60" y="170.40" text-anchor="middle" font-family="Liberation Sans, sans-serif" font-size="10.5" fill="#2a72d8" opacity="1.00">19</text>
<rect x="187.55" y="150.60" width="13.70" height="10" fill="#fff" fill-opacity="0.85"/><text x="194.40" y="159.40" text-anchor="middle" font-family="Liberation Sans, sans-serif" font-size="10.5" fill="#2a72d8" opacity="1.00">24</text>
<rect x="194.55" y="138.10" width="13.70" height="10" fill="#fff" fill-opacity="0.85"/><text x="201.40" y="146.90" text-anchor="middle" font-family="Liberation Sans, sans-serif" font-size="10.5" fill="#2a72d8" opacity="1.00">16</text>
<rect x="198.45" y="176.00" width="13.70" height="10" fill="#fff" fill-opacity="0.85"/><text x="205.30" y="184.80" text-anchor="middle" font-family="Liberation Sans, sans-serif" font-size="10.5" fill="#2a72d8" opacity="1.00">31</text>
<rect x="131.25" y="146.10" width="13.70" height="10" fill="#fff" fill-opacity="0.85"/><text x="138.10" y="154.90" text-anchor="middle" font-family="Liberation Sans, sans-serif" font-size="10.5" fill="#8a1ad0" opacity="1.00">35</text>
<rect x="74.15" y="277.50" width="13.70" height="10" fill="#fff" fill-opacity="0.85"/><text x="81.00" y="286.30" text-anchor="middle" font-family="Liberation Sans, sans-serif" font-size="10.5" fill="#2a72d8" opacity="1.00">26</text>
<rect x="156.65" y="125.50" width="13.70" height="10" fill="#fff" fill-opacity="0.85"/><text x="163.50" y="134.30" text-anchor="middle" font-family="Liberation Sans, sans-serif" font-size="10.5" fill="#2a72d8" opacity="1.00">10</text>
<rect x="154.07" y="96.00" width="7.85" height="10" fill="#fff" fill-opacity="0.85"/><text x="158.00" y="104.80" text-anchor="middle" font-family="Liberation Sans, sans-serif" font-size="10.5" fill="#2a72d8" opacity="1.00">8</text>
<rect x="150.65" y="110.50" width="13.70" height="10" fill="#fff" fill-opacity="0.85"/><text x="157.50" y="119.30" text-anchor="middle" font-family="Liberation Sans, sans-serif" font-size="10.5" fill="#2a72d8" opacity="1.00">45</text>
<rect x="152.65" y="83.00" width="13.70" height="10" fill="#fff" fill-opacity="0.85"/><text x="159.50" y="91.80" text-anchor="middle" font-family="Liberation Sans, sans-serif" font-size="10.5" fill="#2a72d8" opacity="1.00">45</text>
<rect x="145.57" y="83.00" width="7.85" height="10" fill="#fff" fill-opacity="0.85"/><text x="149.50" y="91.80" text-anchor="middle" font-family="Liberation Sans, sans-serif" font-size="10.5" fill="#2a72d8" opacity="1.00">1</text>
<rect x="140.15" y="99.00" width="13.70" height="10" fill="#fff" fill-opacity="0.85"/><text x="147.00" y="107.80" text-anchor="middle" font-family="Liberation Sans, sans-serif" font-size="10.5" fill="#2a72d8" opacity="1.00">20</text>
<rect x="140.15" y="113.00" width="13.70" height="10" fill="#fff" fill-opacity="0.85"/><text x="147.00" y="121.80" text-anchor="middle" font-family="Liberation Sans, sans-serif" font-size="10.5" fill="#2a72d8" opacity="1.00">20</text>
<rect x="253.95" y="198.30" width="13.70" height="10" fill="#fff" fill-opacity="0.85"/><text x="260.80" y="207.10" text-anchor="middle" font-family="Liberation Sans, sans-serif" font-size="10.5" fill="#2a72d8" opacity="1.00">21</text>
<rect x="110.65" y="110.20" width="13.70" height="10" fill="#fff" fill-opacity="0.85"/><text x="117.50" y="119.00" text-anchor="middle" font-family="Liberation Sans, sans-serif" font-size="10.5" fill="#2a72d8" opacity="1.00">28</text>
<rect x="65.15" y="300.00" width="13.70" height="10" fill="#fff" fill-opacity="0.85"/><text x="72.00" y="308.80" text-anchor="middle" font-family="Liberation Sans, sans-serif" font-size="10.5" fill="#2a72d8" opacity="1.00">12</text>
<rect x="117.05" y="93.20" width="13.70" height="10" fill="#fff" fill-opacity="0.85"/><text x="123.90" y="102.00" text-anchor="middle" font-family="Liberation Sans, sans-serif" font-size="10.5" fill="#2a72d8" opacity="1.00">19</text>
<rect x="246.97" y="154.10" width="7.85" height="10" fill="#fff" fill-opacity="0.85"/><text x="250.90" y="162.90" text-anchor="middle" font-family="Liberation Sans, sans-serif" font-size="10.5" fill="#2a72d8" opacity="1.00">9</text>
<rect x="41.28" y="168.50" width="7.85" height="10" fill="#fff" fill-opacity="0.85"/><text x="45.20" y="177.30" text-anchor="middle" font-family="Liberation Sans, sans-serif" font-size="10.5" fill="#2a72d8" opacity="1.00">7</text>
<rect x="23.15" y="157.00" width="13.70" height="10" fill="#fff" fill-opacity="0.51"/><text x="30.00" y="165.80" text-anchor="middle" font-family="Liberation Sans, sans-serif" font-size="10.5" fill="#2a72d8" opacity="0.60">27</text>
<rect x="24.15" y="163.50" width="13.70" height="10" fill="#fff" fill-opacity="0.85"/><text x="31.00" y="172.30" text-anchor="middle" font-family="Liberation Sans, sans-serif" font-size="10.5" fill="#2a72d8" opacity="1.00">24</text>
<line x1="162.05" y1="123.75" x2="164.98" y2="95.90" stroke="#0a52c8" stroke-width="3.10" stroke-linecap="butt"/>
</svg>
<div class="s" style="left:0;width:303px;text-align:center;top:42.5px;font-size:14.9px;font-weight:bold;color:#111;line-height:17px">All Channels</div>
<div class="s" style="left:0;width:303px;text-align:center;top:67.6px;font-size:11.5px;color:#111;line-height:13px">TrueNorth</div>
<div class="s" style="left:0;width:303px;text-align:center;top:390.6px;font-size:12.4px;font-weight:bold;color:#111;line-height:14px"><span style="border-bottom:1.3px solid #111;padding-bottom:0px">Search Criteria</span></div>
<div class="s" style="left:0;width:303px;text-align:center;top:413.50px;font-size:12px;color:#111;line-height:14px;letter-spacing:0.2px">CURRENT+PENDING</div>
<div class="s" style="left:0;width:303px;text-align:center;top:425.90px;font-size:12px;color:#111;line-height:14px;letter-spacing:0.2px">Address: exact</div>
<div class="s" style="left:0;width:303px;text-align:center;top:438.30px;font-size:12px;color:#111;line-height:14px;letter-spacing:0.2px">McAlester, OK</div>
<div class="s" style="left:0;width:303px;text-align:center;top:450.70px;font-size:12px;color:#111;line-height:14px;letter-spacing:0.2px">Zipcode 74501</div>
<div class="s" style="left:0;width:303px;text-align:center;top:463.10px;font-size:12px;color:#111;line-height:14px;letter-spacing:0.2px">Height: 25.0 ft.</div>
<div class="s" style="left:0;width:303px;text-align:center;top:499.50px;font-size:12px;color:#111;line-height:14px">db datecode</div>
<div class="s" style="left:0;width:303px;text-align:center;top:511.50px;font-size:12px;color:#111;line-height:14px">201207061717</div>
<div class="s" style="left:0;width:303px;text-align:center;top:588.80px;font-size:14.3px;color:#2424c8;line-height:16px;text-decoration:underline">www.tvfool.com</div>
<svg style="position:absolute;left:0;top:600px" width="800" height="168" viewBox="0 600 800 168">
<rect x="39.2" y="637" width="9.6" height="123" fill="#e6e6e6"/>
<rect x="70.1" y="632.5" width="30.7" height="127.5" fill="#e6e6e6"/>
<line x1="9" y1="645.50" x2="172" y2="645.50" stroke="#5a5a5a" stroke-width="1" stroke-dasharray="1.5 1.5"/>
<line x1="217" y1="645.50" x2="791" y2="645.50" stroke="#5a5a5a" stroke-width="1" stroke-dasharray="1.5 1.5"/>
<text x="194" y="648.60" text-anchor="middle" font-family="Liberation Sans, sans-serif" font-size="11" fill="#111">-10</text>
<line x1="9" y1="657.50" x2="172" y2="657.50" stroke="#5a5a5a" stroke-width="1" stroke-dasharray="1.5 1.5"/>
<line x1="217" y1="657.50" x2="791" y2="657.50" stroke="#5a5a5a" stroke-width="1" stroke-dasharray="1.5 1.5"/>
<text x="194" y="660.60" text-anchor="middle" font-family="Liberation Sans, sans-serif" font-size="11" fill="#111">-20</text>
<line x1="9" y1="670.50" x2="172" y2="670.50" stroke="#5a5a5a" stroke-width="1" stroke-dasharray="1.5 1.5"/>
<line x1="217" y1="670.50" x2="791" y2="670.50" stroke="#5a5a5a" stroke-width="1" stroke-dasharray="1.5 1.5"/>
<text x="194" y="673.60" text-anchor="middle" font-family="Liberation Sans, sans-serif" font-size="11" fill="#111">-30</text>
<line x1="9" y1="683.50" x2="172" y2="683.50" stroke="#5a5a5a" stroke-width="1" stroke-dasharray="1.5 1.5"/>
<line x1="217" y1="683.50" x2="791" y2="683.50" stroke="#5a5a5a" stroke-width="1" stroke-dasharray="1.5 1.5"/>
<text x="194" y="686.60" text-anchor="middle" font-family="Liberation Sans, sans-serif" font-size="11" fill="#111">-40</text>
<line x1="9" y1="696.50" x2="172" y2="696.50" stroke="#5a5a5a" stroke-width="1" stroke-dasharray="1.5 1.5"/>
<line x1="217" y1="696.50" x2="791" y2="696.50" stroke="#5a5a5a" stroke-width="1" stroke-dasharray="1.5 1.5"/>
<text x="194" y="699.60" text-anchor="middle" font-family="Liberation Sans, sans-serif" font-size="11" fill="#111">-50</text>
<line x1="9" y1="709.50" x2="172" y2="709.50" stroke="#5a5a5a" stroke-width="1" stroke-dasharray="1.5 1.5"/>
<line x1="217" y1="709.50" x2="791" y2="709.50" stroke="#5a5a5a" stroke-width="1" stroke-dasharray="1.5 1.5"/>
<text x="194" y="712.60" text-anchor="middle" font-family="Liberation Sans, sans-serif" font-size="11" fill="#111">-60</text>
<line x1="9" y1="721.50" x2="172" y2="721.50" stroke="#5a5a5a" stroke-width="1" stroke-dasharray="1.5 1.5"/>
<line x1="217" y1="721.50" x2="791" y2="721.50" stroke="#5a5a5a" stroke-width="1" stroke-dasharray="1.5 1.5"/>
<text x="194" y="724.60" text-anchor="middle" font-family="Liberation Sans, sans-serif" font-size="11" fill="#111">-70</text>
<line x1="9" y1="734.50" x2="172" y2="734.50" stroke="#5a5a5a" stroke-width="1" stroke-dasharray="1.5 1.5"/>
<line x1="217" y1="734.50" x2="791" y2="734.50" stroke="#5a5a5a" stroke-width="1" stroke-dasharray="1.5 1.5"/>
<text x="194" y="737.60" text-anchor="middle" font-family="Liberation Sans, sans-serif" font-size="11" fill="#111">-80</text>
<line x1="9" y1="747.50" x2="172" y2="747.50" stroke="#5a5a5a" stroke-width="1" stroke-dasharray="1.5 1.5"/>
<line x1="217" y1="747.50" x2="791" y2="747.50" stroke="#5a5a5a" stroke-width="1" stroke-dasharray="1.5 1.5"/>
<text x="194" y="750.60" text-anchor="middle" font-family="Liberation Sans, sans-serif" font-size="11" fill="#111">-90</text>
<text x="193.8" y="635.7" text-anchor="middle" font-family="Liberation Sans, sans-serif" font-size="11" fill="#111">dBm</text>
<path d="M13,632.3 H7.6 V760.3" fill="none" stroke="#111" stroke-width="1.8"/>
<path d="M64.5,632.3 H111" fill="none" stroke="#111" stroke-width="1.8"/>
<path d="M163,632.3 H173.6 V760.3" fill="none" stroke="#111" stroke-width="1.8"/>
<text x="39.4" y="635.8" text-anchor="middle" font-family="Liberation Sans, sans-serif" font-size="11" font-weight="bold" fill="#111">VHF Lo</text>
<text x="137.3" y="635.6" text-anchor="middle" font-family="Liberation Sans, sans-serif" font-size="11" font-weight="bold" fill="#111">VHF Hi</text>
<line x1="7" y1="760.2" x2="174" y2="760.2" stroke="#111" stroke-width="2"/>
<path d="M482,632.3 H215.5 V760.3" fill="none" stroke="#111" stroke-width="1.8"/>
<path d="M523.7,632.3 H792.5 V760.3" fill="none" stroke="#111" stroke-width="1.8"/>
<text x="503.4" y="636" text-anchor="middle" font-family="Liberation Sans, sans-serif" font-size="11" font-weight="bold" fill="#111">UHF</text>
<line x1="215" y1="760.2" x2="793" y2="760.2" stroke="#111" stroke-width="2"/>
<text x="193.8" y="761.6" text-anchor="middle" font-family="Liberation Sans, sans-serif" font-size="9" fill="#111">Channel</text>
<rect x="10.00" y="756" width="6.00" height="8" fill="#fff"/>
<text x="13.00" y="762.3" text-anchor="middle" font-family="Liberation Sans, sans-serif" font-size="7.2" fill="#111">2</text>
<rect x="30.66" y="756" width="6.00" height="8" fill="#fff"/>
<text x="33.66" y="762.3" text-anchor="middle" font-family="Liberation Sans, sans-serif" font-size="7.2" fill="#111">4</text>
<rect x="51.32" y="756" width="6.00" height="8" fill="#fff"/>
<text x="54.32" y="762.3" text-anchor="middle" font-family="Liberation Sans, sans-serif" font-size="7.2" fill="#111">5</text>
<rect x="61.65" y="756" width="6.00" height="8" fill="#fff"/>
<text x="64.65" y="762.3" text-anchor="middle" font-family="Liberation Sans, sans-serif" font-size="7.2" fill="#111">6</text>
<rect x="102.97" y="756" width="6.00" height="8" fill="#fff"/>
<text x="105.97" y="762.3" text-anchor="middle" font-family="Liberation Sans, sans-serif" font-size="7.2" fill="#111">7</text>
<rect x="123.63" y="756" width="6.00" height="8" fill="#fff"/>
<text x="126.63" y="762.3" text-anchor="middle" font-family="Liberation Sans, sans-serif" font-size="7.2" fill="#111">9</text>
<rect x="142.29" y="756" width="10.00" height="8" fill="#fff"/>
<text x="147.29" y="762.3" text-anchor="middle" font-family="Liberation Sans, sans-serif" font-size="7.2" fill="#111">11</text>
<rect x="162.95" y="756" width="10.00" height="8" fill="#fff"/>
<text x="167.95" y="762.3" text-anchor="middle" font-family="Liberation Sans, sans-serif" font-size="7.2" fill="#111">13</text>
<rect x="215.00" y="756" width="10" height="8" fill="#fff"/>
<text x="220.00" y="762.3" text-anchor="middle" font-family="Liberation Sans, sans-serif" font-size="7.2" fill="#111">14</text>
<rect x="235.60" y="756" width="10" height="8" fill="#fff"/>
<text x="240.60" y="762.3" text-anchor="middle" font-family="Liberation Sans, sans-serif" font-size="7.2" fill="#111">16</text>
<rect x="266.50" y="756" width="10" height="8" fill="#fff"/>
<text x="271.50" y="762.3" text-anchor="middle" font-family="Liberation Sans, sans-serif" font-size="7.2" fill="#111">19</text>
<rect x="297.40" y="756" width="10" height="8" fill="#fff"/>
<text x="302.40" y="762.3" text-anchor="middle" font-family="Liberation Sans, sans-serif" font-size="7.2" fill="#111">22</text>
<rect x="328.30" y="756" width="10" height="8" fill="#fff"/>
<text x="333.30" y="762.3" text-anchor="middle" font-family="Liberation Sans, sans-serif" font-size="7.2" fill="#111">25</text>
<rect x="359.20" y="756" width="10" height="8" fill="#fff"/>
<text x="364.20" y="762.3" text-anchor="middle" font-family="Liberation Sans, sans-serif" font-size="7.2" fill="#111">28</text>
<rect x="390.10" y="756" width="10" height="8" fill="#fff"/>
<text x="395.10" y="762.3" text-anchor="middle" font-family="Liberation Sans, sans-serif" font-size="7.2" fill="#111">31</text>
<rect x="421.00" y="756" width="10" height="8" fill="#fff"/>
<text x="426.00" y="762.3" text-anchor="middle" font-family="Liberation Sans, sans-serif" font-size="7.2" fill="#111">34</text>
<rect x="451.90" y="756" width="10" height="8" fill="#fff"/>
<text x="456.90" y="762.3" text-anchor="middle" font-family="Liberation Sans, sans-serif" font-size="7.2" fill="#111">37</text>
<rect x="482.80" y="756" width="10" height="8" fill="#fff"/>
<text x="487.80" y="762.3" text-anchor="middle" font-family="Liberation Sans, sans-serif" font-size="7.2" fill="#111">40</text>
<rect x="513.70" y="756" width="10" height="8" fill="#fff"/>
<text x="518.70" y="762.3" text-anchor="middle" font-family="Liberation Sans, sans-serif" font-size="7.2" fill="#111">43</text>
<rect x="544.60" y="756" width="10" height="8" fill="#fff"/>
<text x="549.60" y="762.3" text-anchor="middle" font-family="Liberation Sans, sans-serif" font-size="7.2" fill="#111">46</text>
<rect x="575.50" y="756" width="10" height="8" fill="#fff"/>
<text x="580.50" y="762.3" text-anchor="middle" font-family="Liberation Sans, sans-serif" font-size="7.2" fill="#111">49</text>
<rect x="606.40" y="756" width="10" height="8" fill="#fff"/>
<text x="611.40" y="762.3" text-anchor="middle" font-family="Liberation Sans, sans-serif" font-size="7.2" fill="#111">52</text>
<rect x="637.30" y="756" width="10" height="8" fill="#fff"/>
<text x="642.30" y="762.3" text-anchor="middle" font-family="Liberation Sans, sans-serif" font-size="7.2" fill="#111">55</text>
<rect x="668.20" y="756" width="10" height="8" fill="#fff"/>
<text x="673.20" y="762.3" text-anchor="middle" font-family="Liberation Sans, sans-serif" font-size="7.2" fill="#111">58</text>
<rect x="699.10" y="756" width="10" height="8" fill="#fff"/>
<text x="704.10" y="762.3" text-anchor="middle" font-family="Liberation Sans, sans-serif" font-size="7.2" fill="#111">61</text>
<rect x="730.00" y="756" width="10" height="8" fill="#fff"/>
<text x="735.00" y="762.3" text-anchor="middle" font-family="Liberation Sans, sans-serif" font-size="7.2" fill="#111">64</text>
<rect x="760.90" y="756" width="10" height="8" fill="#fff"/>
<text x="765.90" y="762.3" text-anchor="middle" font-family="Liberation Sans, sans-serif" font-size="7.2" fill="#111">67</text>
<rect x="781.50" y="756" width="10" height="8" fill="#fff"/>
<text x="786.50" y="762.3" text-anchor="middle" font-family="Liberation Sans, sans-serif" font-size="7.2" fill="#111">69</text>
<rect x="346.7" y="618" width="7" height="10" fill="#c80000"/>
<text x="350.2" y="627" text-anchor="middle" font-family="Liberation Sans, sans-serif" font-size="11.5" fill="#fff">c</text>
<text x="361" y="628" font-family="Liberation Sans, sans-serif" font-size="13" fill="#111">= Co-channel warning</text>
<rect x="557.9" y="618" width="6.6" height="10" fill="#f58c8c"/>
<text x="561.2" y="627" text-anchor="middle" font-family="Liberation Sans, sans-serif" font-size="11.5" fill="#fff">a</text>
<text x="572.5" y="628" font-family="Liberation Sans, sans-serif" font-size="12.9" fill="#111">= Adjacent channel warning</text>
<rect x="109.80" y="746.63" width="13" height="6.5" rx="3.2" fill="#f2ee10"/><rect x="111.80" y="748.18" width="9" height="3.4" rx="1.6" fill="#0a52c8"/><text transform="translate(118.50,743.38) rotate(-90)" font-family="Liberation Sans, sans-serif" font-size="9.5" fill="#2a72d8">KJRH-DT</text>
<rect x="130.46" y="739.10" width="13" height="6.5" rx="3.2" fill="#f2ee10"/><rect x="132.46" y="740.65" width="9" height="3.4" rx="1.6" fill="#0a52c8"/><text transform="translate(139.16,735.85) rotate(-90)" font-family="Liberation Sans, sans-serif" font-size="9.5" fill="#2a72d8">KTUL</text>
<rect x="140.79" y="751.10" width="13" height="6.5" rx="3.2" fill="#f2ee10"/><rect x="142.79" y="752.65" width="9" height="3.4" rx="1.6" fill="#0a52c8"/><text transform="translate(149.49,747.85) rotate(-90)" font-family="Liberation Sans, sans-serif" font-size="9.5" fill="#2a72d8">KOED-TV</text>
<rect x="236.10" y="695.93" width="9" height="3.4" rx="1.6" fill="#0a52c8"/><text transform="translate(242.80,691.63) rotate(-90)" font-family="Liberation Sans, sans-serif" font-size="9.5" fill="#2a72d8">K51EK</text>
<rect x="267.00" y="691.21" width="9" height="3.4" rx="1.6" fill="#0a52c8"/><text transform="translate(273.70,686.91) rotate(-90)" font-family="Liberation Sans, sans-serif" font-size="9.5" fill="#2a72d8">KOTV-DT</text>
<rect x="277.30" y="754.31" width="9" height="3.4" rx="1.6" fill="#88aee6"/><text transform="translate(284.00,750.01) rotate(-90)" font-family="Liberation Sans, sans-serif" font-size="9.5" fill="#88aee6">KQCW-DT</text>
<rect x="318.50" y="691.72" width="9" height="3.4" rx="1.6" fill="#0a52c8"/><text transform="translate(325.20,687.42) rotate(-90)" font-family="Liberation Sans, sans-serif" font-size="9.5" fill="#2a72d8">KTUL</text>
<rect x="339.10" y="738.09" width="9" height="3.4" rx="1.6" fill="#0a52c8"/><text transform="translate(345.80,733.79) rotate(-90)" font-family="Liberation Sans, sans-serif" font-size="9.5" fill="#2a72d8">KTEN-DT</text>
<rect x="390.60" y="708.32" width="9" height="3.4" rx="1.6" fill="#0a52c8"/><text transform="translate(397.30,704.02) rotate(-90)" font-family="Liberation Sans, sans-serif" font-size="9.5" fill="#2a72d8">KOET-DT</text>
<rect x="431.80" y="700.92" width="9" height="3.4" rx="1.6" fill="#6600c0"/><text transform="translate(438.50,696.62) rotate(-90)" font-family="Liberation Sans, sans-serif" font-size="9.5" fill="#8a1ad0">KEGG-LP</text>
<rect x="534.80" y="748.18" width="9" height="3.4" rx="1.6" fill="#0a52c8"/><text transform="translate(541.50,743.88) rotate(-90)" font-family="Liberation Sans, sans-serif" font-size="9.5" fill="#2a72d8">KOTV-DM</text>
<rect x="534.80" y="748.69" width="9" height="3.4" rx="1.6" fill="#0a52c8"/><text transform="translate(541.50,744.39) rotate(-90)" font-family="Liberation Sans, sans-serif" font-size="9.5" fill="#2a72d8">KOTV-DT</text>
<rect x="596.60" y="672.55" width="9" height="3.4" rx="1.6" fill="#6600c0"/><text transform="translate(603.30,668.25) rotate(-90)" font-family="Liberation Sans, sans-serif" font-size="9.5" fill="#8a1ad0">K51EK</text>
</svg></body></html>
